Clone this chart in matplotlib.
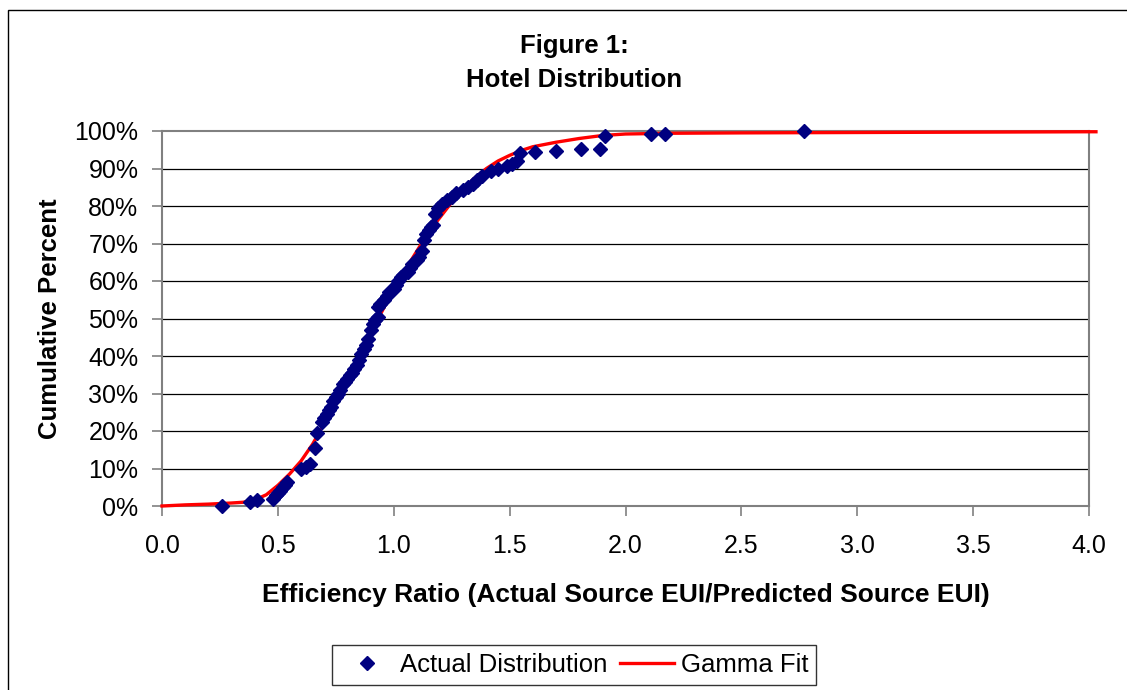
import matplotlib
matplotlib.use("Agg")
import matplotlib.pyplot as plt
from matplotlib.patches import Rectangle
from matplotlib.ticker import FuncFormatter, MultipleLocator

plt.rcParams['font.family'] = ['Liberation Sans', 'DejaVu Sans']

# actual distribution (efficiency ratio, cumulative percent)
actual_x = [0.26, 0.38, 0.41, 0.48, 0.49, 0.50, 0.51, 0.52, 0.53, 0.54,
            0.60, 0.62, 0.64, 0.66, 0.67, 0.69, 0.70, 0.71, 0.72, 0.73,
            0.74, 0.75, 0.76, 0.77, 0.78, 0.79, 0.80, 0.81, 0.82, 0.83,
            0.84, 0.85, 0.86, 0.87, 0.88, 0.89, 0.90, 0.91, 0.92, 0.93,
            0.93, 0.94, 0.96, 0.97, 0.98, 1.00, 1.01, 1.02, 1.03, 1.04,
            1.06, 1.07, 1.08, 1.10, 1.11, 1.12, 1.13, 1.14, 1.15, 1.16,
            1.17, 1.18, 1.19, 1.21, 1.23, 1.25, 1.27, 1.30, 1.32, 1.34,
            1.36, 1.38, 1.42, 1.45, 1.49, 1.51, 1.53, 1.545, 1.61, 1.70,
            1.81, 1.89, 1.91, 2.11, 2.17, 2.77]
actual_y = [0, 1, 1.5, 2, 3, 3.5, 4, 5, 5.5, 6.5,
            10, 10.5, 11.3, 15.5, 19.5, 22.5, 23.5, 24.5, 25.5, 26.5,
            28, 29, 30, 31, 32.5, 33, 34, 35, 35.5, 36.5,
            37.5, 39, 40.5, 42, 43, 44.5, 47, 48.5, 49.5, 50.5,
            53, 54, 55, 56, 57, 58, 59, 60, 61, 61.5,
            62.5, 63.5, 64.5, 65.5, 66.5, 68, 71, 72.5, 73.5, 74.5,
            75, 78, 79.5, 80.5, 81.5, 82.5, 83.5, 84.3, 85, 86,
            87, 88, 89.3, 90, 90.8, 91.3, 92, 94.2, 94.3, 94.8,
            95.3, 95.3, 98.8, 99.1, 99.1, 100]

# gamma fit curve
gamma_x = [0, 0.1, 0.2, 0.3, 0.35, 0.4, 0.45, 0.5, 0.55, 0.6, 0.65, 0.7,
           0.75, 0.8, 0.85, 0.9, 0.95, 1.0, 1.05, 1.1, 1.15, 1.2, 1.25,
           1.3, 1.35, 1.4, 1.45, 1.5, 1.55, 1.6, 1.7, 1.8, 1.9, 2.0, 2.2,
           2.5, 3.0, 3.5, 4.0, 4.03]
gamma_y = [0, 0.3, 0.5, 0.8, 1.0, 1.6, 3, 5.5, 8.5, 12, 16.5, 22,
           28, 34, 40, 46, 52, 58, 63, 68, 73, 77, 81,
           84.5, 87.5, 90, 92, 93.5, 94.8, 95.8, 97, 98, 98.8, 99.2, 99.4,
           99.5, 99.6, 99.7, 99.8, 99.8]

W, H = 1127, 690
fig = plt.figure(figsize=(W / 100, H / 100), dpi=100)
ax = fig.add_axes([162 / W, 1 - 506 / H, (1089 - 162) / W, (506 - 131) / H])

# outer chart frame
fig.patches.append(Rectangle((8 / W, -0.1), 1.2, 1 - 10 / H + 0.1,
                             transform=fig.transFigure, fill=False,
                             edgecolor='black', lw=1))

ax.set_xlim(0, 4.0)
ax.set_ylim(0, 100)
ax.yaxis.set_major_locator(MultipleLocator(10))
ax.xaxis.set_major_locator(MultipleLocator(0.5))
ax.yaxis.set_major_formatter(FuncFormatter(lambda v, p: f"{v:.0f}%"))
ax.xaxis.set_major_formatter(FuncFormatter(lambda v, p: f"{v:.1f}"))

for v in range(10, 100, 10):
    ax.axhline(v, color='black', lw=0.9, zorder=1)

for s in ax.spines.values():
    s.set_color('#808080')
    s.set_linewidth(1.5)

ax.tick_params(axis='both', colors='#808080', labelcolor='black',
               labelsize=18, length=7, width=1.2, direction='out')
ax.tick_params(axis='x', pad=13)
ax.tick_params(axis='y', pad=10)

ax.plot(gamma_x, gamma_y, color='#ff0000', lw=2.4, zorder=3, clip_on=False,
        label='Gamma Fit')
ax.plot(actual_x, actual_y, linestyle='none', marker='D', markersize=7.5,
        color='#000080', zorder=4, clip_on=False, label='Actual Distribution')

fig.text(574 / W, 1 - 46 / H, "Figure 1:", ha='center', va='center',
         fontsize=18.5, fontweight='bold')
fig.text(574 / W, 1 - 80 / H, "Hotel Distribution", ha='center', va='center',
         fontsize=18.5, fontweight='bold')

ax.set_xlabel("Efficiency Ratio (Actual Source EUI/Predicted Source EUI)",
              fontsize=19, fontweight='bold', labelpad=18)
ax.set_ylabel("Cumulative Percent", fontsize=18.5, fontweight='bold',
              labelpad=9)

h, l = ax.get_legend_handles_labels()
leg = fig.legend(h[::-1], l[::-1], ncol=2, loc='center',
                 bbox_to_anchor=(574 / W, 1 - 665 / H), fontsize=18.5,
                 frameon=True, fancybox=False, edgecolor='black',
                 handlelength=2.1, columnspacing=0.5, handletextpad=0.25,
                 borderpad=0.3)
leg.get_frame().set_linewidth(1)

fig.savefig("out.png", dpi=100)
